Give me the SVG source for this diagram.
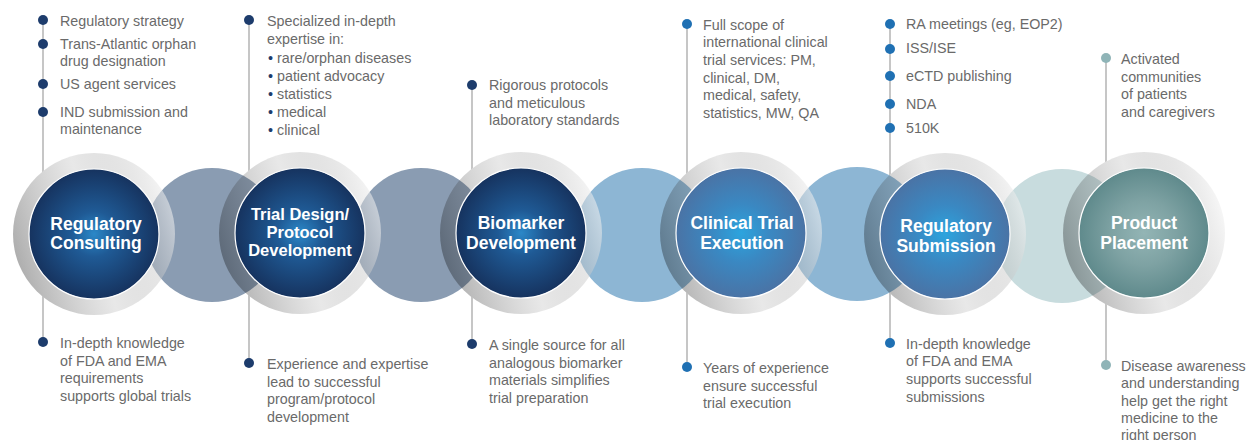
<svg xmlns="http://www.w3.org/2000/svg" width="1248" height="440" viewBox="0 0 1248 440">
<style>
.t{font-family:"Liberation Sans",Arial,sans-serif;font-size:14.3px;fill:#6a6a6a}
.lb{font-family:"Liberation Sans",Arial,sans-serif;font-size:17.5px;font-weight:bold;fill:#ffffff;text-anchor:middle}
.lb3{font-family:"Liberation Sans",Arial,sans-serif;font-size:16.5px;font-weight:bold;fill:#ffffff;text-anchor:middle}
.vl{stroke:#b3b3b3;stroke-width:1.5;fill:none}
.dn{fill:#1d3c6c}
.db{fill:#1f70b3}
.dt{fill:#8fb4b7}
.ring{fill:url(#ringG)}
.inner{stroke:#ffffff;stroke-width:1.2}
.wd{fill:#ffffff}
</style>
<defs>
<linearGradient id="ringG" x1="0" y1="0.65" x2="1" y2="0.35">
<stop offset="0" stop-color="#000000" stop-opacity="0.33"/>
<stop offset="0.5" stop-color="#808080" stop-opacity="0.18"/>
<stop offset="1" stop-color="#f4f4f4" stop-opacity="0.6"/>
</linearGradient>
<radialGradient id="navy" cx="0.5" cy="0.5" r="0.5">
<stop offset="0" stop-color="#2b88c8"/>
<stop offset="0.35" stop-color="#1f5a95"/>
<stop offset="1" stop-color="#16335f"/>
</radialGradient>
<radialGradient id="blue" cx="0.5" cy="0.5" r="0.5">
<stop offset="0" stop-color="#2ca4de"/>
<stop offset="0.45" stop-color="#3a88c2"/>
<stop offset="1" stop-color="#4a73a5"/>
</radialGradient>
<radialGradient id="teal" cx="0.5" cy="0.5" r="0.5">
<stop offset="0" stop-color="#93b5b5"/>
<stop offset="0.5" stop-color="#7ea2a3"/>
<stop offset="1" stop-color="#5f8a8c"/>
</radialGradient>
</defs>

<g id="connectors">
<line class="vl" x1="43" y1="20" x2="43" y2="342"/>
<line class="vl" x1="249" y1="20" x2="249" y2="363"/>
<line class="vl" x1="472" y1="85" x2="472" y2="344"/>
<line class="vl" x1="687" y1="24" x2="687" y2="367"/>
<line class="vl" x1="890" y1="24" x2="890" y2="343"/>
<line class="vl" x1="1106" y1="58" x2="1106" y2="365"/>
<circle class="wd" cx="94" cy="234" r="81"/>
<circle class="wd" cx="300" cy="233" r="81"/>
<circle class="wd" cx="521" cy="233" r="81"/>
<circle class="wd" cx="741" cy="233" r="81"/>
<circle class="wd" cx="945" cy="234" r="81"/>
<circle class="wd" cx="1144" cy="233" r="81"/>
<circle cx="212" cy="235" r="67" fill="#8a9cb2"/>
<circle cx="421" cy="235" r="67" fill="#8a9cb2"/>
<circle cx="642" cy="235" r="67" fill="#8db6d4"/>
<circle cx="857" cy="234" r="67" fill="#8db6d4"/>
<circle cx="1062" cy="236" r="67" fill="#c8dcde"/>
</g>

<g id="node-regulatory-consulting">
<circle class="ring" cx="94" cy="234" r="81"/>
<circle class="inner" cx="94" cy="234" r="65" fill="url(#navy)"/>
<text class="lb" x="96" y="230">Regulatory</text>
<text class="lb" x="96" y="249">Consulting</text>
</g>
<g id="node-trial-design">
<circle class="ring" cx="300" cy="233" r="81"/>
<circle class="inner" cx="300" cy="233" r="65" fill="url(#navy)"/>
<text class="lb3" x="300" y="220">Trial Design/</text>
<text class="lb3" x="300" y="238">Protocol</text>
<text class="lb3" x="300" y="256">Development</text>
</g>
<g id="node-biomarker">
<circle class="ring" cx="521" cy="233" r="81"/>
<circle class="inner" cx="521" cy="233" r="65" fill="url(#navy)"/>
<text class="lb" x="521" y="229">Biomarker</text>
<text class="lb" x="521" y="249">Development</text>
</g>
<g id="node-clinical-trial">
<circle class="ring" cx="741" cy="233" r="81"/>
<circle class="inner" cx="741" cy="233" r="65" fill="url(#blue)"/>
<text class="lb" x="742" y="229">Clinical Trial</text>
<text class="lb" x="742" y="249">Execution</text>
</g>
<g id="node-regulatory-submission">
<circle class="ring" cx="945" cy="234" r="81"/>
<circle class="inner" cx="945" cy="234" r="65" fill="url(#blue)"/>
<text class="lb" x="946" y="232">Regulatory</text>
<text class="lb" x="946" y="252">Submission</text>
</g>
<g id="node-product-placement">
<circle class="ring" cx="1144" cy="233" r="81"/>
<circle class="inner" cx="1144" cy="233" r="65" fill="url(#teal)"/>
<text class="lb" x="1144" y="229">Product</text>
<text class="lb" x="1144" y="249">Placement</text>
</g>

<g id="notes-regulatory-consulting">
<circle class="dn" cx="43" cy="20" r="5"/>
<circle class="dn" cx="43" cy="44" r="5"/>
<circle class="dn" cx="43" cy="84" r="5"/>
<circle class="dn" cx="43" cy="112" r="5"/>
<text class="t" x="60" y="26">Regulatory strategy</text>
<text class="t" x="60" y="49">Trans-Atlantic orphan</text>
<text class="t" x="60" y="66">drug designation</text>
<text class="t" x="60" y="89">US agent services</text>
<text class="t" x="60" y="117">IND submission and</text>
<text class="t" x="60" y="134">maintenance</text>
<circle class="dn" cx="43" cy="342" r="5"/>
<text class="t" x="60" y="348">In-depth knowledge</text>
<text class="t" x="60" y="366">of FDA and EMA</text>
<text class="t" x="60" y="383">requirements</text>
<text class="t" x="60" y="401">supports global trials</text>
</g>

<g id="notes-trial-design">
<circle class="dn" cx="249" cy="20" r="5"/>
<text class="t" x="267" y="26">Specialized in-depth</text>
<text class="t" x="267" y="44">expertise in:</text>
<text class="t" x="268" y="63"><tspan fill="#1d3c6c">•</tspan> rare/orphan diseases</text>
<text class="t" x="268" y="81"><tspan fill="#1d3c6c">•</tspan> patient advocacy</text>
<text class="t" x="268" y="99"><tspan fill="#1d3c6c">•</tspan> statistics</text>
<text class="t" x="268" y="117"><tspan fill="#1d3c6c">•</tspan> medical</text>
<text class="t" x="268" y="135"><tspan fill="#1d3c6c">•</tspan> clinical</text>
<circle class="dn" cx="249" cy="363" r="5"/>
<text class="t" x="267" y="369">Experience and expertise</text>
<text class="t" x="267" y="387">lead to successful</text>
<text class="t" x="267" y="404">program/protocol</text>
<text class="t" x="267" y="422">development</text>
</g>

<g id="notes-biomarker">
<circle class="dn" cx="472" cy="85" r="5"/>
<text class="t" x="489" y="90">Rigorous protocols</text>
<text class="t" x="489" y="108">and meticulous</text>
<text class="t" x="489" y="125">laboratory standards</text>
<circle class="dn" cx="472" cy="344" r="5"/>
<text class="t" x="489" y="350">A single source for all</text>
<text class="t" x="489" y="368">analogous biomarker</text>
<text class="t" x="489" y="385">materials simplifies</text>
<text class="t" x="489" y="403">trial preparation</text>
</g>

<g id="notes-clinical-trial">
<circle class="db" cx="687" cy="24" r="5"/>
<text class="t" x="703" y="30">Full scope of</text>
<text class="t" x="703" y="47">international clinical</text>
<text class="t" x="703" y="65">trial services: PM,</text>
<text class="t" x="703" y="83">clinical, DM,</text>
<text class="t" x="703" y="100">medical, safety,</text>
<text class="t" x="703" y="118">statistics, MW, QA</text>
<circle class="db" cx="687" cy="367" r="5"/>
<text class="t" x="703" y="373">Years of experience</text>
<text class="t" x="703" y="391">ensure successful</text>
<text class="t" x="703" y="408">trial execution</text>
</g>

<g id="notes-regulatory-submission">
<circle class="db" cx="890" cy="24" r="5"/>
<circle class="db" cx="890" cy="49" r="5"/>
<circle class="db" cx="890" cy="76" r="5"/>
<circle class="db" cx="890" cy="104" r="5"/>
<circle class="db" cx="890" cy="128" r="5"/>
<text class="t" x="906" y="29">RA meetings (eg, EOP2)</text>
<text class="t" x="906" y="53">ISS/ISE</text>
<text class="t" x="906" y="81">eCTD publishing</text>
<text class="t" x="906" y="109">NDA</text>
<text class="t" x="906" y="133">510K</text>
<circle class="db" cx="890" cy="343" r="5"/>
<text class="t" x="906" y="349">In-depth knowledge</text>
<text class="t" x="906" y="366">of FDA and EMA</text>
<text class="t" x="906" y="384">supports successful</text>
<text class="t" x="906" y="402">submissions</text>
</g>

<g id="notes-product-placement">
<circle class="dt" cx="1106" cy="58" r="5"/>
<text class="t" x="1121" y="64">Activated</text>
<text class="t" x="1121" y="82">communities</text>
<text class="t" x="1121" y="99">of patients</text>
<text class="t" x="1121" y="117">and caregivers</text>
<circle class="dt" cx="1106" cy="365" r="5"/>
<text class="t" x="1121" y="371">Disease awareness</text>
<text class="t" x="1121" y="388">and understanding</text>
<text class="t" x="1121" y="406">help get the right</text>
<text class="t" x="1121" y="423">medicine to the</text>
<text class="t" x="1121" y="440">right person</text>
</g>
</svg>
